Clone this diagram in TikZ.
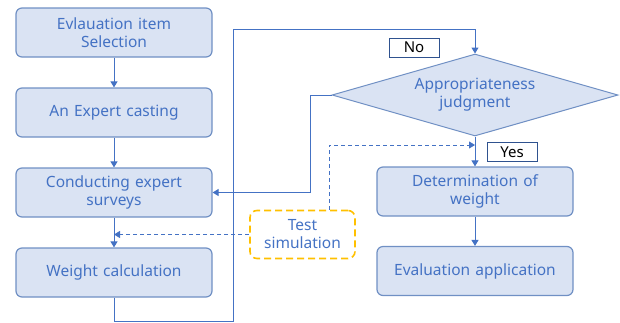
\documentclass[tikz,border=0pt]{standalone}
\usepackage{fontspec}
\setmainfont{Noto Sans}
\usetikzlibrary{shapes.geometric,arrows.meta}
\definecolor{boxfill}{HTML}{DAE3F3}
\definecolor{boxline}{HTML}{7090C4}
\definecolor{txtblue}{HTML}{4472C4}
\definecolor{lblline}{HTML}{2F528F}
\definecolor{simline}{HTML}{FFC000}

\begin{document}
\begin{tikzpicture}[
  x=1pt,y=-1pt,
  box/.style={rectangle,draw=boxline,fill=boxfill,line width=1.2pt,rounded corners=6pt,minimum width=196pt,minimum height=49pt,inner sep=0pt,text width=190pt,align=center,text=txtblue,font=\fontsize{15.5}{18}\selectfont},
  dec/.style={diamond,aspect=3.5,draw=boxline,fill=boxfill,line width=1pt,minimum width=286pt,minimum height=82pt,inner sep=0pt,align=center,text=txtblue,font=\fontsize{15.5}{18}\selectfont},
  sim/.style={rectangle,draw=simline,line width=1.6pt,dash pattern=on 7pt off 4pt,rounded corners=7pt,minimum width=105pt,minimum height=48pt,inner sep=0pt,align=center,text=txtblue,font=\fontsize{15.5}{18}\selectfont},
  lbl/.style={rectangle,draw=lblline,fill=white,line width=0.8pt,minimum width=50pt,minimum height=19pt,inner sep=0pt,font=\fontsize{15}{16}\selectfont},
  flow/.style={draw=txtblue,line width=1pt,-{Triangle[width=7pt,length=6pt]}},
  dflow/.style={flow,dash pattern=on 4pt off 3pt}
]
\useasboundingbox (0,0) rectangle (620,322);

\node[box] (b1) at (114,32.5) {Evlauation item\\Selection};
\node[box] (b2) at (114,112.5) {An Expert casting};
\node[box] (b3) at (114,192.5) {Conducting expert\\surveys};
\node[box] (b4) at (114,272.5) {Weight calculation};

\node[dec] (dec) at (475,95) {Appropriateness\\judgment};
\node[box] (det) at (475,191.5) {Determination of\\weight};
\node[box] (app) at (475,271) {Evaluation application};

\node[sim] (sim) at (302.5,234.5) {Test\\simulation};

\node[lbl] (no) at (414,47.5) {No};
\node[lbl] (yes) at (512,152) {Yes};

\coordinate (r1) at (233,321);
\coordinate (r2) at (233,29);
\coordinate (n1) at (310,95);
\coordinate (s1) at (329,145);

\draw[flow] (b1) -- (b2);
\draw[flow] (b2) -- (b3);
\draw[flow] (b3) -- (b4);
\draw[flow] (b4.south) |- (r1) -- (r2) -| (dec.north);
\draw[flow] (dec.west) -- (n1) |- (b3.east);
\draw[flow] (dec.south) -- (det.north);
\draw[flow] (det) -- (app);
\draw[dflow] (sim.west) -- (sim.west -| b3.south);
\draw[dflow] (sim.north -| s1) -- (s1) -- (s1 -| dec.south);
\end{tikzpicture}
\end{document}
